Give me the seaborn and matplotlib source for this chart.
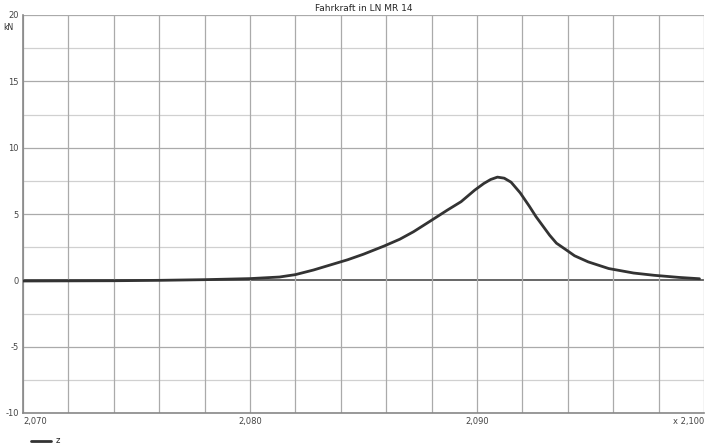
import numpy as np
import pandas as pd
import matplotlib
matplotlib.use('Agg')
import matplotlib.pyplot as plt
import seaborn as sns

# Werte
weg_km = [2.0700, 2.0740, 2.0760, 2.0780, 2.0800, 2.0813, 2.0820, 2.0828,
          2.0835, 2.0843, 2.0850, 2.0859, 2.0866, 2.0872, 2.0879, 2.0887,
          2.0893, 2.0899, 2.0903, 2.0906, 2.0909, 2.0912, 2.0915, 2.0919,
          2.0923, 2.0926, 2.0929, 2.0932, 2.0935, 2.0939, 2.0943, 2.0949,
          2.0958, 2.0969, 2.0978, 2.0989, 2.0998]
kraft_kn = [-0.05, -0.03, 0.0, 0.05, 0.13, 0.25, 0.43, 0.78,
            1.14, 1.55, 1.97, 2.58, 3.1, 3.66, 4.42, 5.3,
            5.93, 6.8, 7.3, 7.6, 7.78, 7.7, 7.4, 6.6,
            5.6, 4.8, 4.1, 3.4, 2.8, 2.33, 1.85, 1.39,
            0.89, 0.55, 0.38, 0.22, 0.12]

y_ticks = [20, 15, 10, 5, 0, -5, -10]
x_ticks = [2.070, 2.080, 2.090, 2.100]
x_tick_labels = ['2,070', '2,080', '2,090', 'x 2,100']
titel = 'Fahrkraft in LN MR 14'

df = pd.DataFrame({'x': weg_km, 'z': kraft_kn})

sns.set_style('white')
plt.rcParams['font.family'] = ['DejaVu Sans']

fig = plt.figure(figsize=(7.12, 4.47), dpi=100)
ax = fig.add_axes([23 / 712, 1 - 413 / 447, 681 / 712, 398 / 447])

# Gitter
for v in np.arange(-10, 20.01, 2.5):
    if v == 0:
        ax.axhline(v, color='#666666', lw=1.4, zorder=1)
    elif v % 5 == 0:
        ax.axhline(v, color='#aaaaaa', lw=0.9, zorder=1)
    else:
        ax.axhline(v, color='#d0d0d0', lw=0.9, zorder=1)
for v in np.arange(2.070, 2.1001, 0.002):
    ax.axvline(v, color='#aaaaaa', lw=0.9, zorder=1)

sns.lineplot(data=df, x='x', y='z', ax=ax, color='#333333', lw=2.0,
             label='z', zorder=3)

ax.set_xlim(2.070, 2.100)
ax.set_ylim(-10, 20)
ax.set_yticks(y_ticks)
ax.set_yticklabels([str(t) for t in y_ticks], fontsize=6)
ax.set_xticks(x_ticks)
ax.set_xticklabels(x_tick_labels, fontsize=6)
xl = ax.get_xticklabels()
xl[0].set_ha('left')
xl[-1].set_ha('right')
ax.tick_params(axis='both', length=2, pad=1, colors='#444444')
ax.set_xlabel('')
ax.set_ylabel('')
for s in ['top', 'right']:
    ax.spines[s].set_visible(False)
for s in ['left', 'bottom']:
    ax.spines[s].set_color('#888888')
    ax.spines[s].set_linewidth(1.2)

ax.set_title(titel, fontsize=6.5, pad=3)
fig.text(3 / 712, 1 - 27 / 447, 'kN', fontsize=5.5, va='center')

leg = ax.legend(loc='upper left', bbox_to_anchor=(0.0, -0.04), frameon=False,
                fontsize=6, handlelength=2.5, handletextpad=0.5)

fig.savefig('out.png', dpi=100)
